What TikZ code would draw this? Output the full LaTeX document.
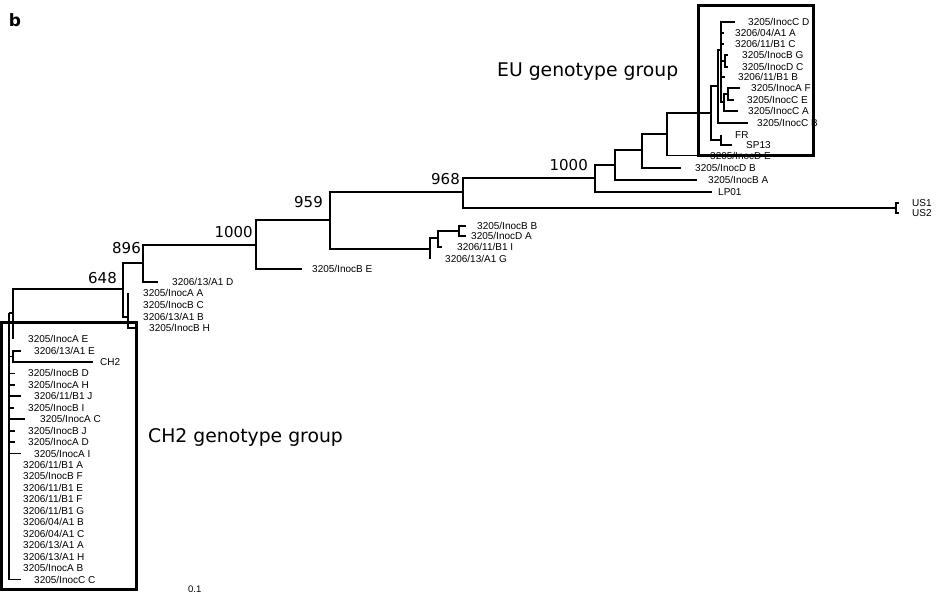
\documentclass[tikz,border=0pt]{standalone}
\usepackage{fontspec}
\setmainfont{Liberation Sans}
\newfontfamily\vfont{DejaVu Sans}
\usetikzlibrary{positioning}

% hoja: nombre, x final, y, x etiqueta, texto
\newcommand{\hoja}[5]{\coordinate (#1) at (#2,#3); \node[taxon] (#1-t) at (#4,#3) {#5};}

\begin{document}
\begin{tikzpicture}[x=1pt, y=-1pt,
    rama/.style={line width=1.8pt},
    caja/.style={line width=3pt},
    taxon/.style={anchor=west, inner sep=0pt, font=\fontsize{10}{12}\selectfont},
    boot/.style={anchor=east, inner sep=0pt, font=\vfont\fontsize{15}{18}\selectfont},
    grupo/.style={anchor=west, inner sep=0pt, font=\vfont\fontsize{18.8}{22}\selectfont}]
    \useasboundingbox (0,0) rectangle (937,597);
    % Nodos internos
    \coordinate (raiz) at (9,313);
    \coordinate (nX) at (13,313);
    \coordinate (nE) at (13,356.5);
    \coordinate (n648) at (123,289);
    \coordinate (nB) at (128,317);
    \coordinate (n896) at (143,263);
    \coordinate (n1000a) at (256,245);
    \coordinate (n959) at (330,220);
    \coordinate (nIB) at (430,249);
    \coordinate (nIB2) at (438,238);
    \coordinate (nIB3) at (459,231);
    \coordinate (n968) at (463,192);
    \coordinate (nUS) at (896,208);
    \coordinate (nEU) at (595,178);
    \coordinate (n615) at (615,165);
    \coordinate (n642) at (642,150);
    \coordinate (n667) at (667,134);
    \coordinate (n711) at (711,113);
    \coordinate (nFR) at (721,140);
    \coordinate (n718) at (718,86);
    \coordinate (n721) at (721,50);
    \coordinate (nBG) at (725,61);
    \coordinate (nAF) at (724,102);
    \coordinate (nAF2) at (728,94);
    % Hojas del grupo EU
    \hoja{cD}{735}{22}{748}{3205/InocC D}
    \hoja{a1A}{724}{33}{735}{3206/04/A1 A}
    \hoja{b1C}{724}{44}{735}{3206/11/B1 C}
    \hoja{bG}{728}{55}{742}{3205/InocB G}
    \hoja{dC}{728}{67}{742}{3205/InocD C}
    \hoja{b1B}{725}{77}{738}{3206/11/B1 B}
    \hoja{aF}{740}{88}{751}{3205/InocA F}
    \hoja{cE}{734}{100}{747}{3205/InocC E}
    \hoja{cA}{738}{111}{748}{3205/InocC A}
    \hoja{cB}{748}{123}{757}{3205/InocC B}
    \hoja{fr}{721}{135}{735}{FR}
    \hoja{sp}{732}{145}{746}{SP13}
    \hoja{dE}{698}{155.5}{710}{3205/InocD E}
    \hoja{dB}{681}{168}{695}{3205/InocD B}
    \hoja{bA}{697}{180}{708}{3205/InocB A}
    \hoja{lp}{712}{192}{718}{LP01}
    \hoja{us1}{899}{203}{912}{US1}
    \hoja{us2}{899}{213}{912}{US2}
    % Hojas del centro
    \hoja{bB}{466}{226}{477}{3205/InocB B}
    \hoja{dA}{466}{236}{471}{3205/InocD A}
    \hoja{b1I}{442}{247}{457}{3206/11/B1 I}
    \hoja{a1G}{430}{259}{445}{3206/13/A1 G}
    \hoja{bE}{302}{269}{312}{3205/InocB E}
    \hoja{a1D}{158}{282}{172}{3206/13/A1 D}
    \hoja{aA}{128}{293}{143}{3205/InocA A}
    \hoja{bC}{128}{305}{143}{3205/InocB C}
    \hoja{a1B}{128}{317}{143}{3206/13/A1 B}
    \hoja{bH}{136}{328}{149}{3205/InocB H}
    % Hojas del grupo CH2
    \hoja{aE}{13}{339}{28}{3205/InocA E}
    \hoja{e13}{21}{351}{34}{3206/13/A1 E}
    \hoja{ch2}{93}{362}{100}{CH2}
    \hoja{bD}{15}{373.4}{28}{3205/InocB D}
    \hoja{aH}{15}{384.8}{28}{3205/InocA H}
    \hoja{b1J}{21}{396.3}{34}{3206/11/B1 J}
    \hoja{bI}{14}{407.7}{28}{3205/InocB I}
    \hoja{aC}{25}{419.2}{40}{3205/InocA C}
    \hoja{bJ}{15}{430.6}{28}{3205/InocB J}
    \hoja{aD}{15}{442}{28}{3205/InocA D}
    \hoja{aI}{21}{453.5}{34}{3205/InocA I}
    \hoja{b1A}{9}{465}{23}{3206/11/B1 A}
    \hoja{bF}{9}{476.4}{23}{3205/InocB F}
    \hoja{b1E}{9}{487.9}{23}{3206/11/B1 E}
    \hoja{b1F}{9}{499.3}{23}{3206/11/B1 F}
    \hoja{b1G}{9}{510.8}{23}{3206/11/B1 G}
    \hoja{a4B}{9}{522.2}{23}{3206/04/A1 B}
    \hoja{a4C}{9}{533.7}{23}{3206/04/A1 C}
    \hoja{a13A}{9}{545.1}{23}{3206/13/A1 A}
    \hoja{a13H}{9}{556.6}{23}{3206/13/A1 H}
    \hoja{aB}{9}{568}{23}{3205/InocA B}
    \hoja{cC}{21}{579.5}{34}{3205/InocC C}
    % Ramas
    \draw[rama] (raiz) |- (nX) (raiz) |- (nE) (raiz) |- (bD) (raiz) |- (aH)
        (raiz) |- (b1J) (raiz) |- (bI) (raiz) |- (aC) (raiz) |- (bJ)
        (raiz) |- (aD) (raiz) |- (aI) (raiz) |- (cC);
    \draw[rama] (nX) |- (n648) (nX) |- (aE);
    \draw[rama] (nE) |- (e13) (nE) |- (ch2);
    \draw[rama] (n648) |- (n896) (n648) |- (nB);
    \draw[rama] (nB) |- (aA) (nB) |- (bC) (nB) |- (a1B) (nB) |- (bH);
    \draw[rama] (n896) |- (n1000a) (n896) |- (a1D);
    \draw[rama] (n1000a) |- (n959) (n1000a) |- (bE);
    \draw[rama] (n959) |- (n968) (n959) |- (nIB);
    \draw[rama] (nIB) |- (nIB2) (nIB) |- (a1G);
    \draw[rama] (nIB2) |- (nIB3) (nIB2) |- (b1I);
    \draw[rama] (nIB3) |- (bB) (nIB3) |- (dA);
    \draw[rama] (n968) |- (nEU) (n968) |- (nUS);
    \draw[rama] (nUS) |- (us1) (nUS) |- (us2);
    \draw[rama] (nEU) |- (n615) (nEU) |- (lp);
    \draw[rama] (n615) |- (n642) (n615) |- (bA);
    \draw[rama] (n642) |- (n667) (n642) |- (dB);
    \draw[rama] (n667) |- (n711) (n667) |- (dE);
    \draw[rama] (n711) |- (n718) (n711) |- (nFR);
    \draw[rama] (nFR) |- (fr) (nFR) |- (sp);
    \draw[rama] (n718) |- (n721) (n718) |- (cB);
    \draw[rama] (n721) |- (cD) (n721) |- (a1A) (n721) |- (b1C) (n721) |- (nBG)
        (n721) |- (b1B) (n721) |- (nAF);
    \draw[rama] (nBG) |- (bG) (nBG) |- (dC);
    \draw[rama] (nAF) |- (nAF2) (nAF) |- (cA);
    \draw[rama] (nAF2) |- (aF) (nAF2) |- (cE);
    % Valores de bootstrap
    \node[boot] (b648) at (117,278) {648};
    \node[boot] (b896) at (141,248) {896};
    \node[boot] (b1000a) at (253,232) {1000};
    \node[boot] (b959) at (323,202) {959};
    \node[boot] (b968) at (460,179) {968};
    \node[boot] (b1000b) at (588,165) {1000};
    % Cajas de los grupos
    \draw[caja] (1.5,322) rectangle (136,589);
    \draw[caja] (698.5,5) rectangle (813,155.5);
    \node[grupo] (gEU) at (497,72) {EU genotype group};
    \node[grupo] (gCH2) at (148,437) {CH2 genotype group};
    % Letra del panel y escala
    \node[inner sep=0pt, font=\vfont\bfseries\fontsize{17}{20}\selectfont] (panel) at (15,20) {b};
    \node[taxon, font=\fontsize{9.5}{11}\selectfont] (escala) at (188,589) {0.1};
\end{tikzpicture}
\end{document}
